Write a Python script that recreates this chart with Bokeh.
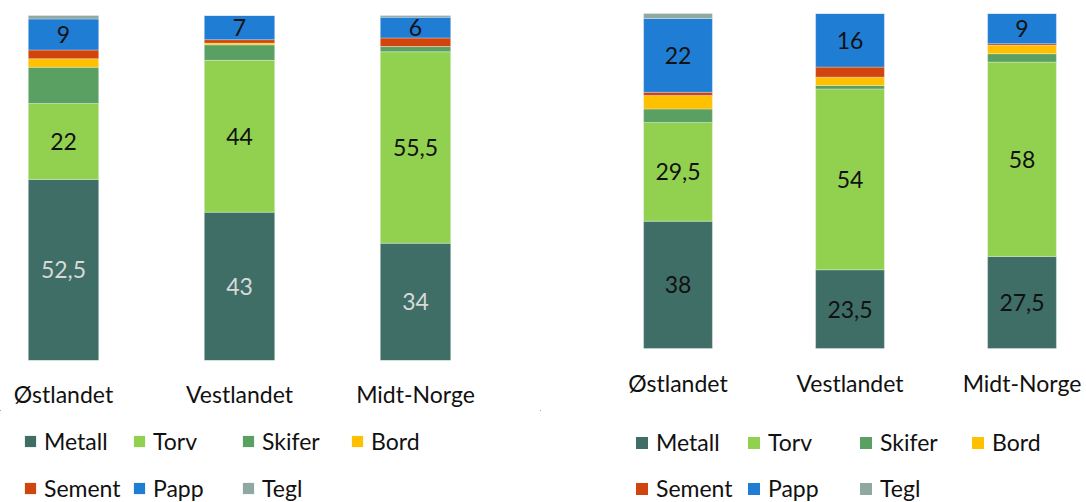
from bokeh.plotting import figure
from bokeh.models import ColumnDataSource, Range1d, FixedTicker, Legend, LegendItem
from bokeh.layouts import row, column
from bokeh.core.properties import value
from bokeh.embed import file_html
from bokeh.resources import INLINE

regions = ["Østlandet", "Vestlandet", "Midt-Norge"]
materials = ["Metall", "Torv", "Skifer", "Bord", "Sement", "Papp", "Tegl"]
colors = ["#3E6E66", "#92D050", "#5BA063", "#FFC000", "#D0440E", "#1F7DD4", "#8FA8A1"]

left_metall = [52.5, 43, 34]
left_torv = [22, 44, 55.5]
left_skifer = [10.5, 4.5, 1.5]
left_bord = [2.5, 0.5, 0]
left_sement = [2.5, 1, 2.5]
left_papp = [9, 7, 6]
left_tegl = [1, 0, 0.5]

right_metall = [38, 23.5, 27.5]
right_torv = [29.5, 54, 58]
right_skifer = [4, 1, 2.5]
right_bord = [4, 2.5, 2.5]
right_sement = [1, 3, 0.5]
right_papp = [22, 16, 9]
right_tegl = [1.5, 0, 0]

labelled = ["Metall", "Torv", "Papp"]

FONT = "Lato"
FS = "23px"
TXT = "#111111"
H_BARS = 410
H_LEG = 92
FRAME_BOTTOM = 360


def fmt(v):
    return ("%g" % v).replace(".", ",")


def bare(p):
    p.outline_line_color = None
    p.xgrid.visible = False
    p.ygrid.visible = False
    p.background_fill_color = None
    p.border_fill_color = None


def make_source(series):
    data = {"x": list(range(len(regions)))}
    for m, s in zip(materials, series):
        data[m] = s
    return ColumnDataSource(data)


def build(series, src, width, x_start, x_end, y_start, y_end, metall_label_color, standoff):
    xs = list(range(len(regions)))
    p = figure(width=width, height=H_BARS, output_backend="svg", toolbar_location=None,
               x_range=Range1d(x_start, x_end), y_range=Range1d(y_start, y_end),
               y_axis_location=None, min_border_left=0, min_border_right=0,
               min_border_top=0, min_border_bottom=H_BARS - FRAME_BOTTOM)
    bare(p)
    p.vbar_stack(materials, x="x", width=0.4, color=colors, source=src,
                 line_color="white", line_width=0.6, line_alpha=0.5)
    lx, ly, lt, lc = [], [], [], []
    for i in xs:
        base = 0.0
        for m, s in zip(materials, series):
            v = s[i]
            if m in labelled and v > 0:
                lx.append(i)
                ly.append(base + v / 2)
                lt.append(fmt(v))
                lc.append(metall_label_color if m == "Metall" else TXT)
            base += v
    lsrc = ColumnDataSource(dict(x=lx, y=ly, t=lt, c=lc))
    p.text(x="x", y="y", text="t", source=lsrc, text_color="c", text_align="center",
           text_baseline="middle", text_font=value(FONT), text_font_size=FS)
    ax = p.xaxis[0]
    ax.ticker = FixedTicker(ticks=xs)
    ax.major_label_overrides = {i: r for i, r in enumerate(regions)}
    ax.major_label_text_font = FONT
    ax.major_label_text_font_size = FS
    ax.major_label_text_color = TXT
    ax.major_label_standoff = standoff
    ax.major_tick_line_color = None
    ax.minor_tick_line_color = None
    ax.axis_line_color = None
    ax.major_tick_out = 0
    ax.major_tick_in = 0
    return p


def legend_fig(src, width, leg_x, leg_label_w, leg_glyph, row_y):
    # same stacked data, kept entirely outside the visible ranges: only the legend shows
    pl = figure(width=width, height=H_LEG, output_backend="svg", toolbar_location=None,
                x_range=Range1d(10, 11), y_range=Range1d(-20, -10),
                x_axis_location=None, y_axis_location=None,
                min_border_left=0, min_border_right=0, min_border_top=0, min_border_bottom=0)
    bare(pl)
    rs = pl.vbar_stack(materials, x="x", width=0.4, color=colors, source=src, line_color=None)
    rends = dict(zip(materials, rs))
    for g, yy in zip([materials[:4], materials[4:]], row_y):
        leg = Legend(items=[LegendItem(label=m, renderers=[rends[m]]) for m in g],
                     location=(leg_x, yy), orientation="horizontal",
                     glyph_width=leg_glyph, glyph_height=leg_glyph, label_standoff=7,
                     label_width=leg_label_w, label_height=leg_glyph, spacing=0,
                     padding=0, margin=0, border_line_color=None,
                     background_fill_alpha=0, label_text_font=FONT,
                     label_text_font_size=FS, label_text_color=TXT)
        pl.add_layout(leg)
    return pl


left_series = [left_metall, left_torv, left_skifer, left_bord, left_sement, left_papp, left_tegl]
right_series = [right_metall, right_torv, right_skifer, right_bord, right_sement, right_papp, right_tegl]
src1 = make_source(left_series)
src2 = make_source(right_series)

W1, W2 = 540, 546
ls = -63 / 176
p1 = build(left_series, src1, W1, ls, ls + W1 / 176, 0, FRAME_BOTTOM / 3.45, "#D9D9D9", 19)
rs_ = -(677.5 - W1) / 172
p2 = build(right_series, src2, W2, rs_, rs_ + W2 / 172, -(FRAME_BOTTOM - 348) / 3.35, 348 / 3.35, TXT, 8)

l1 = legend_fig(src1, W1, 23, 88, 14, [47, 0])
l2 = legend_fig(src2, W2, 94, 90, 15, [46, 0])

layout = column(row(p1, p2), row(l1, l2))
open("out.html", "w").write(file_html(layout, INLINE))
